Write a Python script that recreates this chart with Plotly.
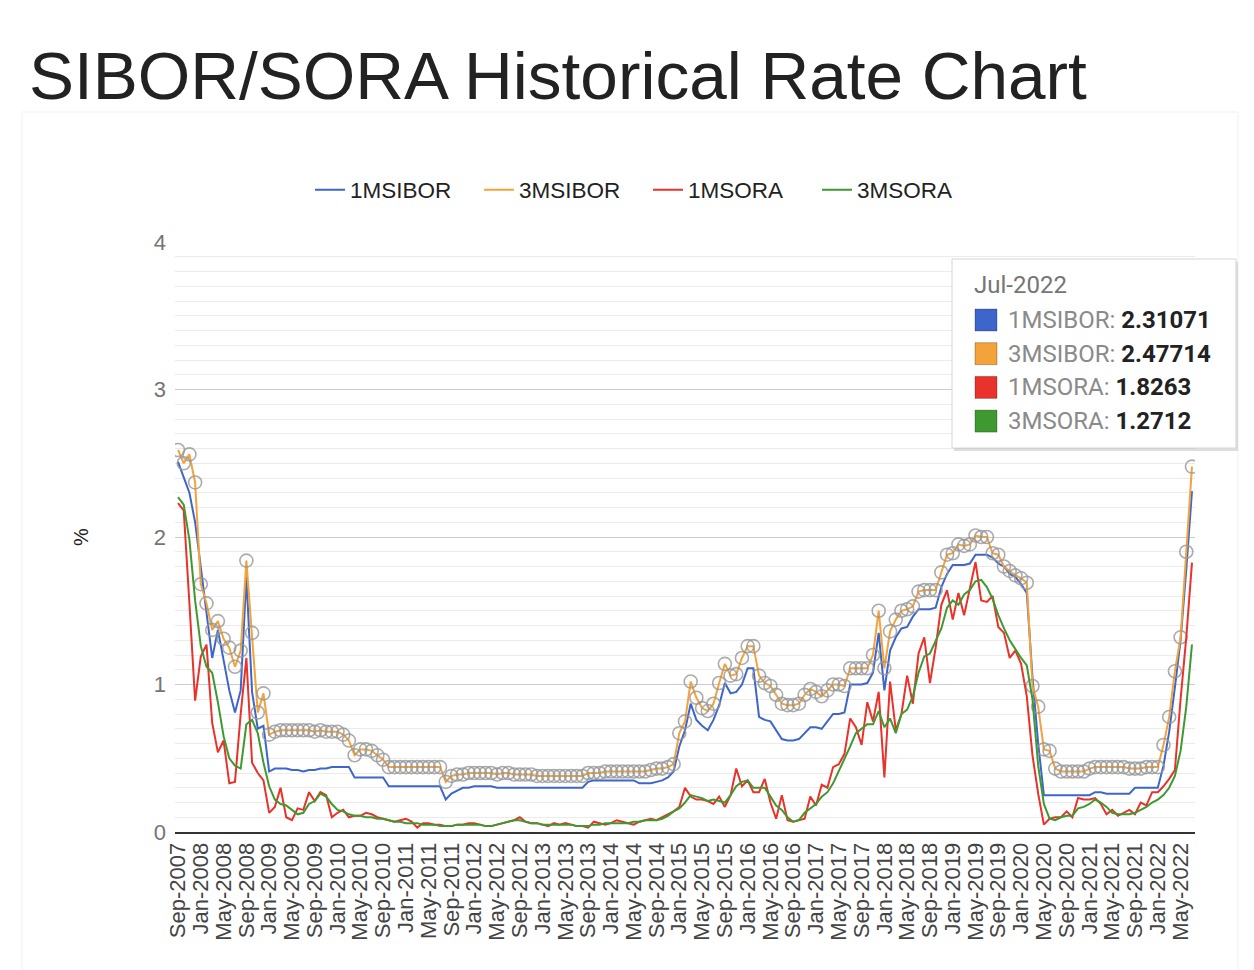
import pandas as pd
import plotly.graph_objects as go

# monthly fixings, Sep-2007 .. Jul-2022
months = pd.date_range("2007-09-01", "2022-07-01", freq="MS").strftime("%b-%Y").tolist()

sibor_1m = [
    2.51, 2.40, 2.30, 2.10,
    1.78, 1.46, 1.18, 1.37, 1.17, 0.96, 0.81, 0.96, 1.73, 0.95, 0.70, 0.72,
    0.41, 0.43, 0.43, 0.43, 0.42, 0.42, 0.41, 0.42, 0.42, 0.43, 0.43, 0.44,
    0.44, 0.44, 0.44, 0.37, 0.37, 0.37, 0.37, 0.37, 0.37, 0.31, 0.31, 0.31,
    0.31, 0.31, 0.31, 0.31, 0.31, 0.31, 0.31, 0.22, 0.26, 0.28, 0.30, 0.30,
    0.31, 0.31, 0.31, 0.31, 0.30, 0.30, 0.30, 0.30, 0.30, 0.30, 0.30, 0.30,
    0.30, 0.30, 0.30, 0.30, 0.30, 0.30, 0.30, 0.30, 0.34, 0.35, 0.35, 0.35,
    0.35, 0.35, 0.35, 0.35, 0.35, 0.33, 0.33, 0.33, 0.34, 0.35, 0.37, 0.41,
    0.58, 0.69, 0.87, 0.76, 0.72, 0.69, 0.76, 0.86, 1.01, 0.94, 0.95, 1.00,
    1.11, 1.11, 0.78, 0.76, 0.75, 0.69, 0.63, 0.62, 0.62, 0.63, 0.67, 0.71,
    0.71, 0.70, 0.75, 0.80, 0.80, 0.81, 1.00, 1.00, 1.00, 1.01, 1.08, 1.35,
    0.96, 1.23, 1.32, 1.38, 1.39, 1.46, 1.51, 1.51, 1.51, 1.52, 1.66, 1.75,
    1.81, 1.81, 1.81, 1.82, 1.88, 1.88, 1.88, 1.86, 1.82, 1.80, 1.75, 1.73,
    1.68, 1.62, 1.05, 0.60, 0.25, 0.25, 0.25, 0.25, 0.25, 0.25, 0.25, 0.25,
    0.25, 0.27, 0.27, 0.26, 0.26, 0.26, 0.26, 0.26, 0.30, 0.30, 0.30, 0.30,
    0.30, 0.45, 0.68, 0.98, 1.30, 1.78, 2.31071,
]

sibor_3m = [
    2.59, 2.50, 2.56, 2.37,
    1.68, 1.55, 1.37, 1.43, 1.31, 1.25, 1.12, 1.23, 1.84, 1.35, 0.81, 0.94,
    0.66, 0.68, 0.69, 0.69, 0.69, 0.69, 0.69, 0.69, 0.68, 0.69, 0.68, 0.68,
    0.68, 0.66, 0.62, 0.52, 0.56, 0.56, 0.55, 0.52, 0.49, 0.44, 0.44, 0.44,
    0.44, 0.44, 0.44, 0.44, 0.44, 0.44, 0.44, 0.34, 0.38, 0.39, 0.39, 0.40,
    0.40, 0.40, 0.40, 0.40, 0.39, 0.40, 0.40, 0.39, 0.39, 0.39, 0.39, 0.38,
    0.38, 0.38, 0.38, 0.38, 0.38, 0.38, 0.38, 0.38, 0.40, 0.40, 0.40, 0.41,
    0.41, 0.41, 0.41, 0.41, 0.41, 0.41, 0.41, 0.42, 0.43, 0.43, 0.44, 0.46,
    0.67, 0.75, 1.02, 0.91, 0.84, 0.82, 0.87, 1.01, 1.14, 1.06, 1.07, 1.18,
    1.26, 1.26, 1.06, 1.01, 0.99, 0.93, 0.87, 0.86, 0.86, 0.87, 0.93, 0.97,
    0.95, 0.92, 0.96, 1.00, 1.00, 0.99, 1.11, 1.11, 1.11, 1.11, 1.20, 1.50,
    1.11, 1.36, 1.44, 1.50, 1.51, 1.53, 1.63, 1.64, 1.64, 1.64, 1.76, 1.88,
    1.89, 1.95, 1.94, 1.95, 2.01, 2.00, 2.00, 1.89, 1.88, 1.80, 1.77, 1.74,
    1.72, 1.69, 0.99, 0.85, 0.56, 0.55, 0.43, 0.41, 0.41, 0.41, 0.41, 0.41,
    0.43, 0.44, 0.44, 0.44, 0.44, 0.44, 0.44, 0.43, 0.43, 0.43, 0.44, 0.44,
    0.44, 0.59, 0.78, 1.09, 1.32, 1.90, 2.47714,
]

sora_1m = [
    2.23, 2.18, 1.55, 0.89,
    1.19, 1.27, 0.74, 0.54, 0.62, 0.33, 0.34, 0.80, 1.18, 0.47, 0.40, 0.35,
    0.13, 0.17, 0.30, 0.10, 0.08, 0.16, 0.15, 0.27, 0.21, 0.27, 0.25, 0.10,
    0.13, 0.15, 0.10, 0.11, 0.11, 0.13, 0.12, 0.10, 0.09, 0.08, 0.07, 0.08,
    0.09, 0.07, 0.03, 0.06, 0.06, 0.05, 0.05, 0.04, 0.04, 0.05, 0.05, 0.06,
    0.06, 0.05, 0.04, 0.04, 0.05, 0.06, 0.07, 0.08, 0.10, 0.07, 0.06, 0.06,
    0.05, 0.04, 0.06, 0.05, 0.06, 0.05, 0.04, 0.04, 0.03, 0.07, 0.06, 0.05,
    0.06, 0.08, 0.07, 0.06, 0.05, 0.07, 0.08, 0.09, 0.08, 0.10, 0.12, 0.14,
    0.17, 0.30, 0.24, 0.22, 0.22, 0.21, 0.19, 0.24, 0.17, 0.25, 0.43, 0.31,
    0.35, 0.27, 0.27, 0.36, 0.20, 0.09, 0.25, 0.08, 0.07, 0.08, 0.09, 0.24,
    0.18, 0.32, 0.30, 0.44, 0.46, 0.53, 0.77, 0.71, 0.59, 0.88, 0.75, 0.95,
    0.37, 1.02, 0.69, 0.80, 1.06, 0.87, 1.21, 1.32, 1.01, 1.25, 1.54, 1.64,
    1.44, 1.62, 1.47, 1.65, 1.83, 1.57, 1.56, 1.60, 1.39, 1.35, 1.18, 1.23,
    1.14, 0.92, 0.52, 0.26, 0.05, 0.09, 0.10, 0.10, 0.14, 0.10, 0.23, 0.22,
    0.22, 0.23, 0.19, 0.12, 0.15, 0.11, 0.13, 0.15, 0.12, 0.20, 0.18, 0.27,
    0.27, 0.31, 0.36, 0.42, 0.90, 1.32, 1.8263,
]

sora_3m = [
    2.27, 2.22, 1.98, 1.57,
    1.26, 1.12, 1.08, 0.88, 0.65, 0.50, 0.45, 0.43, 0.73, 0.76, 0.67, 0.47,
    0.31, 0.22, 0.19, 0.18, 0.15, 0.12, 0.13, 0.19, 0.21, 0.26, 0.24, 0.19,
    0.15, 0.14, 0.12, 0.11, 0.11, 0.10, 0.10, 0.09, 0.09, 0.08, 0.07, 0.07,
    0.06, 0.06, 0.06, 0.05, 0.05, 0.05, 0.04, 0.04, 0.04, 0.05, 0.05, 0.05,
    0.05, 0.05, 0.04, 0.04, 0.05, 0.06, 0.07, 0.08, 0.08, 0.07, 0.06, 0.06,
    0.05, 0.05, 0.05, 0.05, 0.05, 0.05, 0.04, 0.04, 0.04, 0.05, 0.05, 0.06,
    0.06, 0.06, 0.06, 0.06, 0.07, 0.07, 0.08, 0.08, 0.08, 0.09, 0.11, 0.14,
    0.16, 0.20, 0.25, 0.24, 0.23, 0.21, 0.22, 0.21, 0.20, 0.25, 0.31, 0.34,
    0.35, 0.30, 0.30, 0.30, 0.24, 0.18, 0.15, 0.10, 0.07, 0.08, 0.13, 0.16,
    0.19, 0.24, 0.27, 0.33, 0.41, 0.49, 0.58, 0.67, 0.70, 0.73, 0.73, 0.82,
    0.71, 0.77, 0.67, 0.80, 0.83, 0.92, 1.08, 1.19, 1.21, 1.30, 1.38, 1.52,
    1.57, 1.54, 1.61, 1.64, 1.70, 1.71, 1.66, 1.58, 1.47, 1.38, 1.30, 1.24,
    1.18, 1.13, 0.90, 0.45, 0.19, 0.09, 0.08, 0.10, 0.11, 0.11, 0.16, 0.17,
    0.19, 0.22, 0.20, 0.17, 0.13, 0.12, 0.12, 0.12, 0.13, 0.15, 0.17, 0.20,
    0.22, 0.25, 0.30, 0.38, 0.55, 0.85, 1.2712,
]

series_names = ["1MSIBOR", "3MSIBOR", "1MSORA", "3MSORA"]
series_colors = ["#3d66cc", "#f4a23a", "#e8322a", "#3e9a30"]
y_ticks = [0, 1, 2, 3, 4]
x_ticks = months[::4]

for s in (sibor_1m, sibor_3m, sora_1m, sora_3m):
    assert len(s) == len(months), len(s)

# the page puts the figure 8px in from the top-left corner
OFF = 8
W, H = 1254 - OFF, 970 - OFF
ML, MR, MT, MB = 167, 59, 234, 138


def px(x):
    # page pixel -> paper x
    return (x - OFF - ML) / (W - ML - MR)


def py(y):
    # page pixel -> paper y
    return (H - MB - (y - OFF)) / (H - MT - MB)


fig = go.Figure()
for name, vals, col in zip(series_names, [sibor_1m, sibor_3m, sora_1m, sora_3m], series_colors):
    fig.add_trace(go.Scatter(x=months, y=vals, name=name, mode="lines",
                             line=dict(color=col, width=2)))
    if name == "3MSIBOR":
        # focused series: google-style hollow grey rings on every point
        fig.add_trace(go.Scatter(
            x=months, y=vals, name=name, mode="markers", showlegend=False,
            marker=dict(symbol="circle-open", size=13, color="rgba(150,150,150,0.8)",
                        line=dict(width=1.6)),
        ))

fig.update_layout(
    width=W, height=H,
    margin=dict(l=ML, r=MR, t=MT, b=MB),
    paper_bgcolor="white", plot_bgcolor="white",
    font=dict(family="Liberation Sans, Arial, sans-serif", color="#222"),
    title=dict(text="SIBOR/SORA Historical Rate Chart", xref="container", yref="container",
               x=21 / W, y=1 - (75 - OFF) / H, xanchor="left", yanchor="middle",
               font=dict(size=67.5, color="#222")),
    legend=dict(orientation="h", x=px(310), y=py(190), xanchor="left", yanchor="middle",
                font=dict(size=22.5, color="#222"), bgcolor="rgba(0,0,0,0)",
                entrywidth=124, entrywidthmode="pixels", itemwidth=30),
    hovermode=False,
)

fig.update_xaxes(
    type="category", range=[-0.53, len(months) - 0.47],
    tickmode="array", tickvals=x_ticks, ticktext=x_ticks, tickangle=-90,
    tickfont=dict(size=22, color="#444"),
    showgrid=False, showline=True, linecolor="#333", linewidth=2, ticks="",
)
fig.update_yaxes(
    range=[0, 4], tickvals=y_ticks, tickfont=dict(size=22, color="#757575"),
    ticklabelstandoff=8,
    gridcolor="#cccccc", gridwidth=1, zeroline=False,
    minor=dict(dtick=0.1, showgrid=True, gridcolor="#ebebeb", gridwidth=1),
    title=dict(text="%", font=dict(size=20, color="#222"), standoff=59),
)

# faint chart container
fig.add_shape(type="rect", xref="paper", yref="paper", layer="below",
              x0=px(22), x1=px(1238), y0=py(975), y1=py(112),
              line=dict(color="#f1f1f3", width=1), fillcolor="rgba(0,0,0,0)")

# tooltip box for the last month
tip_top, tip_bot, tip_l, tip_r = 259, 448, 952, 1236
fig.add_shape(type="rect", xref="paper", yref="paper",
              x0=px(tip_l + 2), x1=px(tip_r + 2), y0=py(tip_bot + 3), y1=py(tip_top + 3),
              line=dict(width=0), fillcolor="rgba(0,0,0,0.13)")
fig.add_shape(type="rect", xref="paper", yref="paper",
              x0=px(tip_l), x1=px(tip_r), y0=py(tip_bot), y1=py(tip_top),
              line=dict(color="#d6d6d6", width=1), fillcolor="white")
fig.add_annotation(xref="paper", yref="paper", x=px(972), y=py(285), xanchor="left",
                   yanchor="middle", showarrow=False, text=months[-1],
                   font=dict(family="Roboto, sans-serif", size=24, color="#757575"))

last_vals = [sibor_1m[-1], sibor_3m[-1], sora_1m[-1], sora_3m[-1]]
for k, (name, val, col) in enumerate(zip(series_names, last_vals, series_colors)):
    row_y = 320 + k * 33.7
    fig.add_shape(type="rect", xref="paper", yref="paper",
                  x0=px(975), x1=px(997), y0=py(row_y + 11), y1=py(row_y - 11),
                  line=dict(color="rgba(0,0,0,0.25)", width=1), fillcolor=col)
    fig.add_annotation(xref="paper", yref="paper", x=px(1006), y=py(row_y), xanchor="left",
                       yanchor="middle", showarrow=False,
                       text=f"<span style='color:#8a8a8a'>{name}: </span><b>{val}</b>",
                       font=dict(family="Roboto, sans-serif", size=24, color="#222"))

fig.write_html("out.html")
